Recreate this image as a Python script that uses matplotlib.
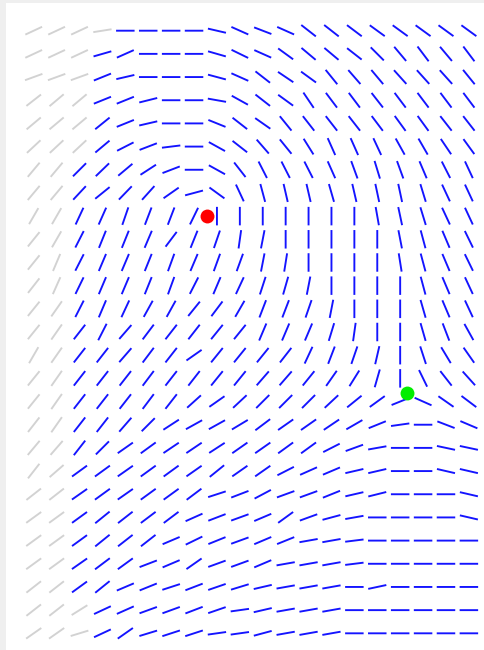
import numpy as np
import matplotlib
matplotlib.use("Agg")
import matplotlib.pyplot as plt

# direction (degrees, screen frame: 0 = horizontal, + = "/" , - = "\") per grid row, 20 columns each
angle_rows = [
    [25, 25, 25, 9, 0, 0, 0, 0, -13, -24, -21, -24, -38, -38, -37, -36, -36, -36, -36, -36],
    [25, 25, 25, 16, 24, 0, 0, 0, -16, -26, -24, -36, -40, -40, -38, -45, -50, -53, -50, -53],
    [20, 20, 20, 22, 13, 0, 0, 0, -15, -24, -38, -34, -36, -51, -49, -50, -48, -48, -48, -51],
    [38, 40, 40, 22, 22, 14, 0, 0, -10, -29, -38, -36, -56, -53, -53, -52, -53, -53, -53, -53],
    [40, 40, 40, 39, 22, 13, 0, 0, -22, -38, -35, -51, -52, -52, -52, -53, -54, -54, -52, -52],
    [43, 43, 43, 40, 27, 21, 7, 0, -29, -38, -49, -51, -58, -66, -66, -65, -61, -60, -56, -54],
    [50, 50, 45, 44, 40, 33, 21, 0, -29, -52, -63, -63, -63, -66, -70, -73, -70, -67, -63, -65],
    [50, 50, 47, 39, 46, 48, 35, 15, -36, -65, -75, -77, -77, -74, -77, -78, -78, -73, -65, -65],
    [60, 60, 65, 66, 71, 69, 69, 64, 90, 90, 90, 90, 90, 90, 90, -80, -78, -73, -65, -65],
    [51, 60, 63, 68, 68, 67, 53, 68, 71, 82, 79, 90, 90, 90, 90, 90, -79, -75, -67, -64],
    [51, 67, 63, 67, 67, 68, 70, 67, 70, 70, 79, 81, 90, 90, 90, 90, -81, -75, -67, -64],
    [52, 66, 64, 67, 67, 68, 70, 63, 67, 65, 72, 74, 79, 90, 90, 90, 90, -75, -67, -65],
    [51, 55, 63, 67, 65, 61, 61, 51, 53, 60, 69, 69, 71, 79, 90, 90, 90, -74, -67, -65],
    [51, 55, 52, 63, 49, 53, 52, 52, 51, 51, 67, 67, 67, 73, 82, 90, 90, -74, -69, -61],
    [60, 55, 52, 52, 49, 53, 52, 35, 51, 51, 51, 52, 65, 69, 71, 77, 90, -72, -59, -55],
    [51, 55, 52, 52, 52, 53, 52, 52, 51, 51, 49, 49, 51, 55, 58, 74, 90, -64, -52, -48],
    [51, 55, 52, 52, 52, 53, 52, 42, 35, 43, 45, 45, 45, 43, 39, 36, 22, -24, -35, -37],
    [52, 55, 52, 52, 49, 45, 33, 29, 29, 31, 37, 35, 35, 34, 30, 22, 8, 0, -21, -23],
    [50, 49, 52, 45, 35, 36, 34, 34, 33, 35, 35, 36, 36, 27, 20, 10, 0, 0, -12, -12],
    [52, 41, 36, 36, 35, 36, 36, 35, 39, 35, 35, 27, 24, 23, 13, 13, 0, 0, -13, -13],
    [38, 38, 35, 36, 35, 36, 36, 37, 18, 21, 28, 20, 20, 22, 13, 14, 0, 0, 0, -13],
    [36, 36, 36, 39, 38, 37, 37, 24, 21, 20, 23, 36, 20, 15, 10, 0, 0, 0, 0, -13],
    [36, 36, 36, 39, 38, 38, 23, 26, 22, 20, 23, 22, 10, 10, 7, 0, 0, 0, 0, 0],
    [36, 36, 35, 37, 36, 21, 23, 35, 20, 20, 23, 10, 10, 10, 7, 0, 0, 0, 0, 0],
    [38, 38, 36, 39, 23, 22, 18, 21, 19, 17, 13, 10, 10, 10, 0, 12, 0, 0, 0, 0],
    [38, 38, 32, 25, 24, 20, 20, 21, 19, 8, 13, 10, 10, 10, 0, 0, 0, 0, 0, 0],
    [35, 35, 17, 25, 35, 17, 18, 18, 8, 8, 15, 10, 10, 10, 0, 0, 0, 0, 0, 0],
]
# number of leading (left) cells per row drawn in gray
gray_lead = [4, 3, 3, 3, 3, 3] + [2] * 19 + [3, 3]

red_point = (7.55, 8.0)      # (column, row)
green_point = (16.29, 15.64)  # (column, row)

W, H = 484, 650
fig = plt.figure(figsize=(W / 100, H / 100), dpi=100, facecolor="#efefef")
ax = fig.add_axes([6 / W, 0, (W - 6) / W, (H - 3) / H])
ax.set_facecolor("white")
ax.set_xlim(-1.21, 19.66)
ax.set_ylim(26.72, -1.195)
for s in ax.spines.values():
    s.set_visible(False)
ax.set_xticks([])
ax.set_yticks([])

ang = np.radians(np.array(angle_rows, dtype=float))
nrows, ncols = ang.shape
cols, rows = np.meshgrid(np.arange(ncols), np.arange(nrows))
U = np.cos(ang)
V = np.sin(ang)
gray = cols < np.array(gray_lead)[:, None]

common = dict(angles="uv", pivot="middle", scale_units="dots", scale=1 / 18.5,
              units="dots", width=1.9, headwidth=0, headlength=0, headaxislength=0,
              snap=False)
ax.quiver(cols[gray], rows[gray], U[gray], V[gray], color="#d2d2d2", **common)
ax.quiver(cols[~gray], rows[~gray], U[~gray], V[~gray], color="#1414ff", **common)

ax.scatter([red_point[0]], [red_point[1]], s=100, color="#ff0000", zorder=5, linewidths=0)
ax.scatter([green_point[0]], [green_point[1]], s=100, color="#00ee00", zorder=5, linewidths=0)

fig.savefig("out.png", dpi=100, facecolor=fig.get_facecolor())
